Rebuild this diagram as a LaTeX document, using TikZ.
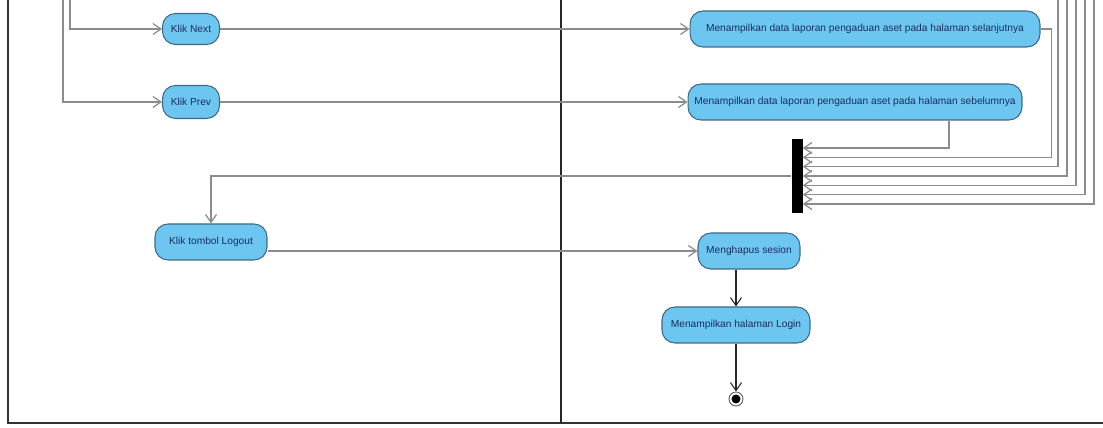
\documentclass[tikz,border=0pt]{standalone}
\usepackage{fontspec}
\setmainfont{Liberation Sans}
\usetikzlibrary{arrows.meta,calc}
\definecolor{actfill}{RGB}{108,198,240}
\definecolor{actline}{RGB}{62,104,134}
\definecolor{acttext}{RGB}{25,45,95}
\definecolor{flowgray}{RGB}{140,140,140}

\begin{document}
\begin{tikzpicture}[x=0.02cm, y=-0.02cm, >={Straight Barb[length=1.6mm,width=2.2mm]},
	every node/.style={font=\fontsize{5.8}{6.8}\selectfont},
	act/.style={draw=actline, fill=actfill, text=acttext, rounded corners=2.6mm, line width=0.6pt, minimum height=0.72cm, inner sep=1pt},
	flow/.style={->, draw=flowgray, line width=0.7pt}]
	\useasboundingbox (0,0) rectangle (1103,428);
	\draw[gray!40!black, line width=1pt] (8,0) -- (8,423) -- (1103,423);
	\draw[gray!30!black, line width=1pt] (561,0) -- (561,423);

	\node[act, minimum width=1.14cm, minimum height=0.62cm] (next) at (191,29) {Klik Next};
	\node[act, minimum width=1.14cm, minimum height=0.66cm] (prev) at (191,102) {Klik Prev};
	\node[act, minimum width=7cm] (lanjut) at (865,29) {Menampilkan data laporan pengaduan aset pada halaman selanjutnya};
	\node[act, minimum width=6.68cm] (sebelum) at (855,102) {Menampilkan data laporan pengaduan aset pada halaman sebelumnya};
	\node[fill=black, minimum width=0.22cm, minimum height=1.48cm, inner sep=0] (join) at (797,176) {};
	\node[act, minimum width=2.24cm] (logout) at (211,242) {Klik tombol Logout};
	\node[act, minimum width=2.04cm] (hapus) at (749,251) {Menghapus sesion};
	\node[act, minimum width=2.96cm] (login) at (736,325) {Menampilkan halaman Login};
	\node[circle, draw=gray!70!black, fill=white, line width=0.5pt, minimum size=0.28cm, inner sep=0] (end) at (736,399) {};
	\node[circle, fill=black, minimum size=0.18cm, inner sep=0] (endin) at (end) {};

	\coordinate (s1) at (70,0);
	\coordinate (s2) at (63,0);
	\foreach \i in {1,...,7}
		\coordinate (j\i) at ($(join.north east)!\i/8!(join.south east)$);

	\draw[flow] (s1) |- (next);
	\draw[flow] (s2) |- (prev);
	\draw[flow] (next) -- (lanjut);
	\draw[flow] (prev) -- (sebelum);
	\draw[flow] (sebelum.south) ++(94,0) |- (j1);
	\draw[flow] (lanjut.east) -- ++(11,0) |- (j2);
	\foreach \i/\x in {3/1058,4/1067,5/1076,6/1085,7/1094}
		\draw[flow] (\x,0) |- (j\i);
	\draw[flow] (join.west) -| (logout);
	\draw[flow] (logout.east |- hapus) -- (hapus);
	\draw[->, draw=gray!30!black, line width=0.6pt] (hapus.south -| login) -- (login);
	\draw[->, draw=gray!30!black, line width=0.6pt] (login) -- (end);
\end{tikzpicture}
\end{document}
